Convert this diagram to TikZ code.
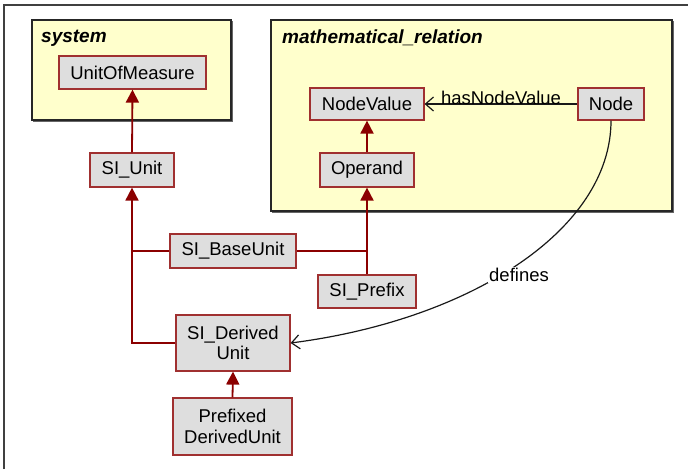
\documentclass[tikz,border=0pt]{standalone}
\usepackage{fontspec}
\setmainfont{Liberation Sans}
\usetikzlibrary{arrows.meta}
\definecolor{pkgfill}{HTML}{FFFFCC}
\definecolor{boxfill}{HTML}{DEDEDE}
\definecolor{boxline}{HTML}{A03030}
\definecolor{genline}{HTML}{8B0000}
\tikzset{
  pkg/.style={draw=black!85, line width=1.2pt, fill=pkgfill},
  pkglabel/.style={anchor=west, font=\fontsize{19}{22}\selectfont\bfseries\itshape, inner sep=0pt},
  cls/.style={draw=boxline, line width=1.2pt, fill=boxfill, rectangle, inner sep=0pt,
    font=\fontsize{18.5}{21.5}\selectfont, align=center},
  gen/.style={draw=genline, line width=1.8pt},
  genarrow/.style={gen, -{Triangle[length=13pt,width=13pt]}},
  assoc/.style={draw=black!90, line width=1.2pt, -{Straight Barb[length=8pt,width=14pt,line width=1.2pt]}},
  lbl/.style={font=\fontsize{18.5}{21.5}\selectfont, inner sep=1pt}
}
\begin{document}
\begin{tikzpicture}[x=1pt,y=-1pt]
\useasboundingbox (0,0) rectangle (688,469);
% outer frame (top and left edges)
\draw[line width=2pt, black!75] (4,469) -- (4,4.5) -- (688,4.5);
% packages
\fill[black!60] (33,21) rectangle (232.5,121.5);
\draw[pkg] (32,20) rectangle (231,120);
\node[pkglabel] (sysl) at (41,38) {system};
\fill[black!60] (272,21) rectangle (673.5,212.5);
\draw[pkg] (271,20) rectangle (672,211);
\node[pkglabel] (mrl) at (282,38) {mathematical\_relation};
% classes
\node[cls, minimum width=147pt, minimum height=33pt] (uom) at (132.5,72.5) {UnitOfMeasure};
\node[cls, minimum width=84pt, minimum height=34pt] (siu) at (132,170) {SI\_Unit};
\node[cls, minimum width=114pt, minimum height=32pt] (nv) at (367,104) {NodeValue};
\node[cls, minimum width=66pt, minimum height=32pt] (nd) at (611,104) {Node};
\node[cls, minimum width=94pt, minimum height=34pt] (op) at (367,170) {Operand};
\node[cls, minimum width=126pt, minimum height=34pt] (sbu) at (233,251) {SI\_BaseUnit};
\node[cls, minimum width=98pt, minimum height=33pt] (spf) at (367,291.5) {SI\_Prefix};
\node[cls, minimum width=114pt, minimum height=56pt] (sdu) at (233,343) {SI\_Derived\\[-1pt]Unit};
\node[cls, minimum width=119pt, minimum height=57pt] (pdu) at (232.5,426.5) {Prefixed\\[-1pt]DerivedUnit};
% junction coordinates
\coordinate (jl1) at (132,251);
\coordinate (jl2) at (132,343);
\coordinate (jr) at (367,251);
% generalizations
\draw[genarrow] (siu.north) -- (uom.south);
\draw[genarrow] (op.north) -- (nv.south);
\draw[genarrow] (pdu.north) -- (sdu.south);
\draw[gen] (sdu.west) -- (jl2) -- (jl1);
\draw[genarrow] (jl1) -- (siu.south);
\draw[gen] (sbu.west) -- (jl1);
\draw[gen] (sbu.east) -- (jr);
\draw[gen] (spf.north) -- (jr);
\draw[genarrow] (jr) -- (op.south);
% associations
\draw[assoc] (nd.west) -- node[lbl, above, pos=0.5, yshift=-2pt] (hnv) {hasNodeValue} (nv.east);
\draw[assoc] (nd.south) .. controls (611,230) and (470,320) .. (sdu.east);
\node[lbl, fill=white] (dfn) at (519,275) {defines};
\end{tikzpicture}
\end{document}
